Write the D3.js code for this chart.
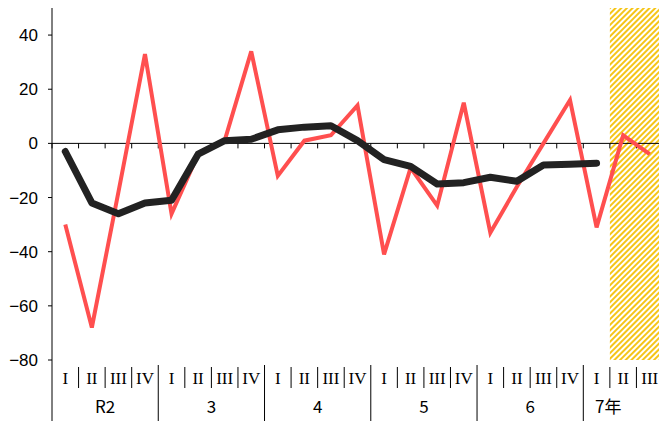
<!DOCTYPE html>
<html><head><meta charset="utf-8">
<script src="https://cdn.jsdelivr.net/npm/d3@7"></script>
<style>body{margin:0;background:#fff}</style>
</head><body><svg id="c" width="659" height="421"></svg>
<script>
var years = ["R2", "3", "4", "5", "6", "7年"];
var quarters = ["I", "II", "III", "IV"];
var redVals = [-30, -68, -18, 33, -26, -4, 1, 34, -12, 1, 3, 14, -41, -9, -23, 15, -33, -16, 0, 16, -31, 3, -4];
var blackVals = [-3, -22, -26, -22, -21, -4, 1, 1.5, 5, 6, 6.5, 1, -6, -8.5, -15, -14.5, -12.5, -14, -8, -7.7, -7.3];
var yTicks = [40, 20, 0, -20, -40, -60, -80];

var keys = [];
years.forEach(function(y, i) {
  var n = i == years.length - 1 ? 3 : 4;
  for (var q = 0; q < n; q++) keys.push(y + "-" + quarters[q]);
});

var svg = d3.select("#c");
var x = d3.scaleBand().domain(keys).range([52, 663]);
var y = d3.scaleLinear().domain([-80, 50]).range([360, 8]);

// hatched forecast area
var defs = svg.append("defs");
var pat = defs.append("pattern").attr("id", "hatch").attr("patternUnits", "userSpaceOnUse")
  .attr("width", 4).attr("height", 4).attr("patternTransform", "rotate(45)");
pat.append("rect").attr("width", 2).attr("height", 4).attr("fill", "#f5c518");
svg.append("rect").attr("x", x("7年-I") + x.bandwidth()).attr("y", y(50))
  .attr("width", 659 - x("7年-I") - x.bandwidth()).attr("height", y(-80) - y(50))
  .attr("fill", "url(#hatch)");

// y axis
svg.append("line").attr("x1", 52).attr("x2", 52).attr("y1", y(50)).attr("y2", 421).attr("stroke", "#000");
yTicks.forEach(function(t) {
  svg.append("line").attr("x1", 48).attr("x2", 52).attr("y1", y(t)).attr("y2", y(t)).attr("stroke", "#000");
  svg.append("text").attr("x", 38).attr("y", y(t) + 6).attr("text-anchor", "end")
    .attr("font-family", "Liberation Sans, Arial").attr("font-size", 17).text(d3.format("")(t).replace("-", "−"));
});

// zero line with ticks
svg.append("line").attr("x1", 52).attr("x2", 659).attr("y1", y(0)).attr("y2", y(0)).attr("stroke", "#000");
keys.forEach(function(k) {
  svg.append("line").attr("x1", x(k)).attr("x2", x(k)).attr("y1", y(0)).attr("y2", y(0) + 5).attr("stroke", "#000");
});

// category labels
keys.forEach(function(k, i) {
  var q = k.split("-")[1];
  var cx = x(k) + x.bandwidth() / 2;
  svg.append("text").attr("x", cx).attr("y", 384).attr("text-anchor", "middle")
    .attr("font-family", "Liberation Serif, serif").attr("font-size", 17).text(q);
  if (q != "I") svg.append("line").attr("x1", x(k)).attr("x2", x(k)).attr("y1", 367).attr("y2", 388).attr("stroke", "#000");
});
years.forEach(function(yr, i) {
  var ks = keys.filter(function(k) { return k.split("-")[0] == yr; });
  var x0 = x(ks[0]), x1 = x(ks[ks.length - 1]) + x.bandwidth();
  if (i > 0) svg.append("line").attr("x1", x0).attr("x2", x0).attr("y1", 365).attr("y2", 421).attr("stroke", "#000");
  svg.append("text").attr("x", i == years.length - 1 ? x0 + 25 : (x0 + x1) / 2).attr("y", 413).attr("text-anchor", "middle")
    .attr("font-family", "Noto Sans CJK JP, Liberation Sans").attr("font-size", 17).text(yr);
});

var line = d3.line().x(function(d, i) { return x(keys[i]) + x.bandwidth() / 2; }).y(function(d) { return y(d); });
svg.append("path").attr("d", line(redVals)).attr("fill", "none").attr("stroke", "#ff4f4f").attr("stroke-width", 4).attr("stroke-linejoin", "miter");
svg.append("path").attr("d", line(blackVals)).attr("fill", "none").attr("stroke", "#222").attr("stroke-width", 7).attr("stroke-linecap", "round").attr("stroke-linejoin", "round");
</script></body></html>
